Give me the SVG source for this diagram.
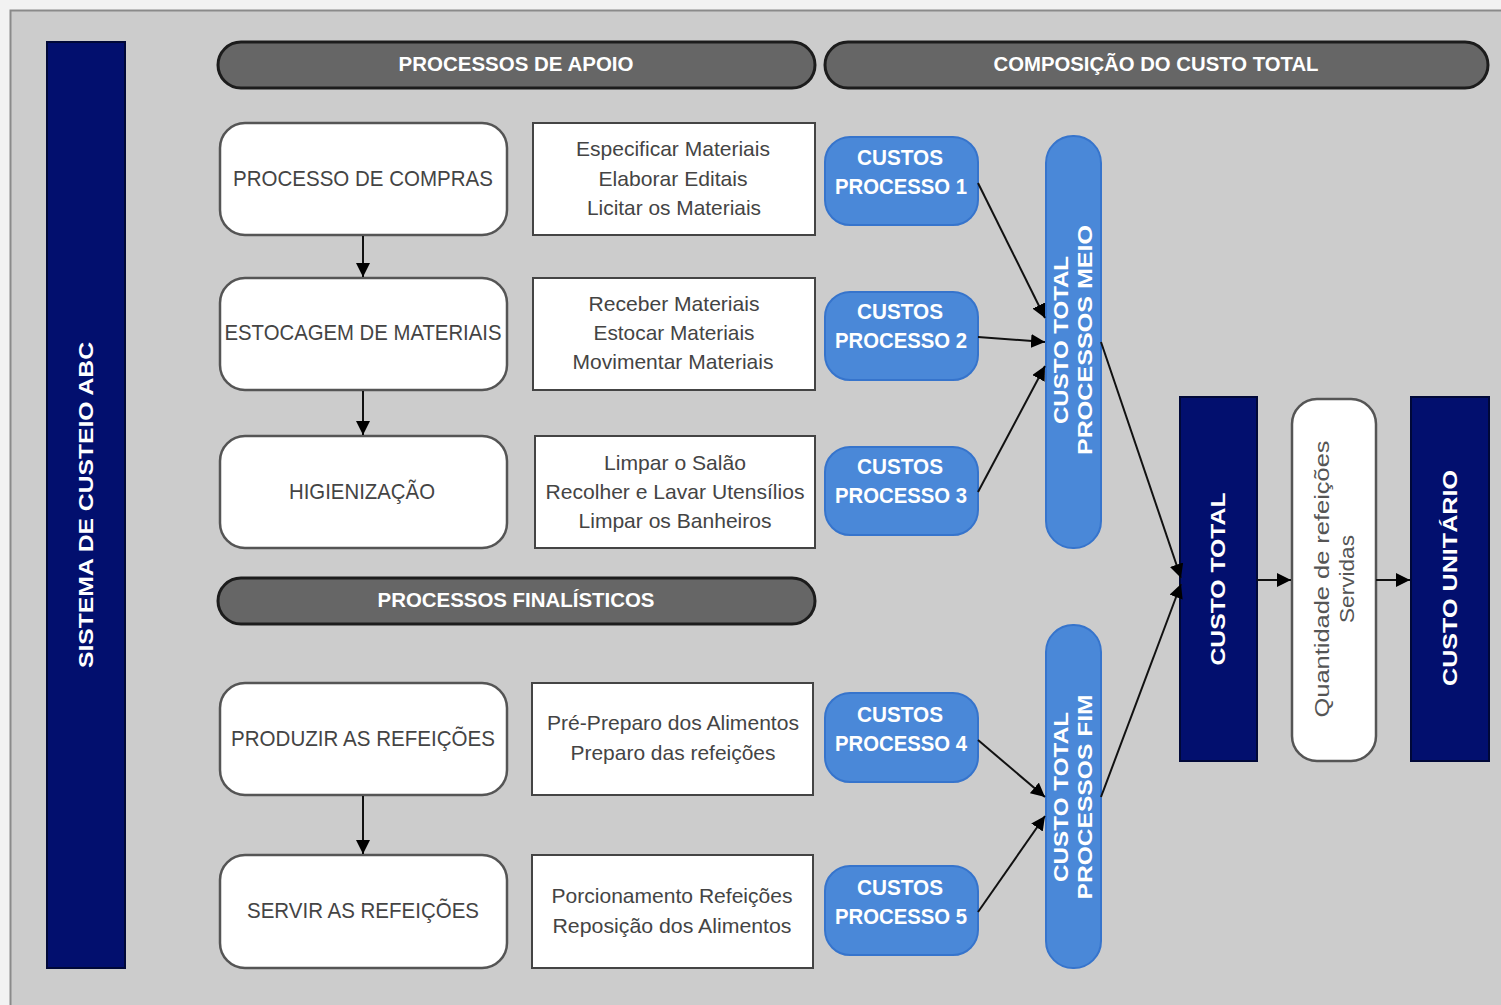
<svg xmlns="http://www.w3.org/2000/svg" width="1501" height="1005" viewBox="0 0 1501 1005">
<defs>
<marker id="arr" viewBox="0 0 10 10" refX="10" refY="5" markerWidth="14" markerHeight="14" markerUnits="userSpaceOnUse" orient="auto">
<path d="M0,0 L10,5 L0,10 z" fill="#000"/>
</marker>
<style>
.hdr{fill:#666;stroke:#1c1c1c;stroke-width:3}
.hdrt{font-family:"Liberation Sans",Arial,sans-serif;font-weight:bold;font-size:21px;fill:#fff;text-anchor:middle}
.proc{fill:#fff;stroke:#555;stroke-width:2.5}
.proct{font-family:"Liberation Sans",Arial,sans-serif;font-size:22px;fill:#444;text-anchor:middle}
.act{fill:#fff;stroke:#444;stroke-width:2}
.actt{font-family:"Liberation Sans",Arial,sans-serif;font-size:21px;fill:#444;text-anchor:middle}
.pill{fill:#4a88d8;stroke:#3674cc;stroke-width:2}
.pillt{font-family:"Liberation Sans",Arial,sans-serif;font-weight:bold;font-size:22px;fill:#fff;text-anchor:middle}
.navy{fill:#020f6e;stroke:#000838;stroke-width:2}
.vt{font-family:"Liberation Sans",Arial,sans-serif;font-weight:bold;font-size:20px;fill:#fff;text-anchor:middle;dominant-baseline:central}
.vtg{font-family:"Liberation Sans",Arial,sans-serif;font-size:20px;fill:#555;text-anchor:middle;dominant-baseline:central}
.conn{stroke:#111;stroke-width:2;fill:none;marker-end:url(#arr)}
</style>
</defs>
<rect x="0" y="0" width="1501" height="1005" fill="#f2f2f2"/>
<rect x="10.5" y="10.5" width="1500" height="1000" fill="#cccccc" stroke="#8a8a8a" stroke-width="2"/>

<g id="sistema">
<rect x="47" y="42" width="78" height="926" class="navy"/>
<text class="vt" font-size="19" transform="translate(86,505) rotate(-90)" textLength="326" lengthAdjust="spacingAndGlyphs">SISTEMA DE CUSTEIO ABC</text>
</g>

<g id="hdr-apoio">
<rect x="218" y="42" width="597" height="46" rx="23" class="hdr"/>
<text x="516" y="71" class="hdrt" textLength="235" lengthAdjust="spacingAndGlyphs">PROCESSOS DE APOIO</text>
</g>
<g id="hdr-composicao">
<rect x="825" y="42" width="663" height="46" rx="23" class="hdr"/>
<text x="1156" y="71" class="hdrt" textLength="325" lengthAdjust="spacingAndGlyphs">COMPOSIÇÃO DO CUSTO TOTAL</text>
</g>
<g id="hdr-finalisticos">
<rect x="218" y="578" width="597" height="46" rx="23" class="hdr"/>
<text x="516" y="607" class="hdrt" textLength="277" lengthAdjust="spacingAndGlyphs">PROCESSOS FINALÍSTICOS</text>
</g>

<g id="proc-compras">
<rect x="220" y="123" width="287" height="112" rx="25" class="proc"/>
<text x="363" y="186" class="proct" textLength="260" lengthAdjust="spacingAndGlyphs">PROCESSO DE COMPRAS</text>
</g>
<g id="proc-estocagem">
<rect x="220" y="278" width="287" height="112" rx="25" class="proc"/>
<text x="363" y="340" class="proct" textLength="277" lengthAdjust="spacingAndGlyphs">ESTOCAGEM DE MATERIAIS</text>
</g>
<g id="proc-higienizacao">
<rect x="220" y="436" width="287" height="112" rx="25" class="proc"/>
<text x="362" y="499" class="proct" textLength="146" lengthAdjust="spacingAndGlyphs">HIGIENIZAÇÃO</text>
</g>
<g id="proc-produzir">
<rect x="220" y="683" width="287" height="112" rx="25" class="proc"/>
<text x="363" y="746" class="proct" textLength="264" lengthAdjust="spacingAndGlyphs">PRODUZIR AS REFEIÇÕES</text>
</g>
<g id="proc-servir">
<rect x="220" y="855" width="287" height="113" rx="25" class="proc"/>
<text x="363" y="918" class="proct" textLength="232" lengthAdjust="spacingAndGlyphs">SERVIR AS REFEIÇÕES</text>
</g>

<g id="act-compras">
<rect x="533" y="123" width="282" height="112" class="act"/>
<text x="673" y="156" class="actt" textLength="194" lengthAdjust="spacingAndGlyphs">Especificar Materiais</text>
<text x="673" y="186" class="actt" textLength="149" lengthAdjust="spacingAndGlyphs">Elaborar Editais</text>
<text x="674" y="215" class="actt" textLength="174" lengthAdjust="spacingAndGlyphs">Licitar os Materiais</text>
</g>
<g id="act-estocagem">
<rect x="533" y="278" width="282" height="112" class="act"/>
<text x="674" y="311" class="actt" textLength="171" lengthAdjust="spacingAndGlyphs">Receber Materiais</text>
<text x="674" y="340" class="actt" textLength="161" lengthAdjust="spacingAndGlyphs">Estocar Materiais</text>
<text x="673" y="369" class="actt" textLength="201" lengthAdjust="spacingAndGlyphs">Movimentar Materiais</text>
</g>
<g id="act-higienizacao">
<rect x="535" y="436" width="280" height="112" class="act"/>
<text x="675" y="470" class="actt" textLength="142" lengthAdjust="spacingAndGlyphs">Limpar o Salão</text>
<text x="675" y="499" class="actt" textLength="259" lengthAdjust="spacingAndGlyphs">Recolher e Lavar Utensílios</text>
<text x="675" y="528" class="actt" textLength="193" lengthAdjust="spacingAndGlyphs">Limpar os Banheiros</text>
</g>
<g id="act-produzir">
<rect x="532" y="683" width="281" height="112" class="act"/>
<text x="673" y="730" class="actt" textLength="252" lengthAdjust="spacingAndGlyphs">Pré-Preparo dos Alimentos</text>
<text x="673" y="760" class="actt" textLength="205" lengthAdjust="spacingAndGlyphs">Preparo das refeições</text>
</g>
<g id="act-servir">
<rect x="532" y="855" width="281" height="113" class="act"/>
<text x="672" y="903" class="actt" textLength="241" lengthAdjust="spacingAndGlyphs">Porcionamento Refeições</text>
<text x="672" y="933" class="actt" textLength="239" lengthAdjust="spacingAndGlyphs">Reposição dos Alimentos</text>
</g>

<g id="custo-p1">
<rect x="825" y="137" width="153" height="88" rx="25" class="pill"/>
<text x="900" y="165" class="pillt" textLength="86" lengthAdjust="spacingAndGlyphs">CUSTOS</text>
<text x="901" y="194" class="pillt" textLength="132" lengthAdjust="spacingAndGlyphs">PROCESSO 1</text>
</g>
<g id="custo-p2">
<rect x="825" y="292" width="153" height="88" rx="25" class="pill"/>
<text x="900" y="319" class="pillt" textLength="86" lengthAdjust="spacingAndGlyphs">CUSTOS</text>
<text x="901" y="348" class="pillt" textLength="132" lengthAdjust="spacingAndGlyphs">PROCESSO 2</text>
</g>
<g id="custo-p3">
<rect x="825" y="447" width="153" height="88" rx="25" class="pill"/>
<text x="900" y="474" class="pillt" textLength="86" lengthAdjust="spacingAndGlyphs">CUSTOS</text>
<text x="901" y="503" class="pillt" textLength="132" lengthAdjust="spacingAndGlyphs">PROCESSO 3</text>
</g>
<g id="custo-p4">
<rect x="825" y="693" width="153" height="89" rx="25" class="pill"/>
<text x="900" y="722" class="pillt" textLength="86" lengthAdjust="spacingAndGlyphs">CUSTOS</text>
<text x="901" y="751" class="pillt" textLength="132" lengthAdjust="spacingAndGlyphs">PROCESSO 4</text>
</g>
<g id="custo-p5">
<rect x="825" y="866" width="153" height="89" rx="25" class="pill"/>
<text x="900" y="895" class="pillt" textLength="86" lengthAdjust="spacingAndGlyphs">CUSTOS</text>
<text x="901" y="924" class="pillt" textLength="132" lengthAdjust="spacingAndGlyphs">PROCESSO 5</text>
</g>

<g id="total-meio">
<rect x="1046" y="136" width="55" height="412" rx="27" class="pill"/>
<text class="vt" transform="translate(1073,340) rotate(-90)" y="-12" textLength="168" lengthAdjust="spacingAndGlyphs">CUSTO TOTAL</text>
<text class="vt" transform="translate(1073,340) rotate(-90)" y="12" textLength="230" lengthAdjust="spacingAndGlyphs">PROCESSOS MEIO</text>
</g>
<g id="total-fim">
<rect x="1046" y="625" width="55" height="343" rx="27" class="pill"/>
<text class="vt" transform="translate(1073,797) rotate(-90)" y="-12" textLength="170" lengthAdjust="spacingAndGlyphs">CUSTO TOTAL</text>
<text class="vt" transform="translate(1073,797) rotate(-90)" y="12" textLength="205" lengthAdjust="spacingAndGlyphs">PROCESSOS FIM</text>
</g>

<g id="custo-total">
<rect x="1180" y="397" width="77" height="364" class="navy"/>
<text class="vt" transform="translate(1218,579) rotate(-90)" textLength="173" lengthAdjust="spacingAndGlyphs">CUSTO TOTAL</text>
</g>
<g id="quantidade">
<rect x="1292" y="399" width="84" height="362" rx="25" fill="#fff" stroke="#555" stroke-width="2.5"/>
<text class="vtg" transform="translate(1334,579) rotate(-90)" y="-12" textLength="277" lengthAdjust="spacingAndGlyphs">Quantidade de refeições</text>
<text class="vtg" transform="translate(1334,579) rotate(-90)" y="13" textLength="88" lengthAdjust="spacingAndGlyphs">Servidas</text>
</g>
<g id="custo-unitario">
<rect x="1411" y="397" width="78" height="364" class="navy"/>
<text class="vt" transform="translate(1450,578) rotate(-90)" textLength="216" lengthAdjust="spacingAndGlyphs">CUSTO UNITÁRIO</text>
</g>

<g id="connectors">
<line x1="363" y1="236" x2="363" y2="277" class="conn"/>
<line x1="363" y1="391" x2="363" y2="435" class="conn"/>
<line x1="363" y1="796" x2="363" y2="854" class="conn"/>
<line x1="978" y1="183" x2="1045" y2="318" class="conn"/>
<line x1="978" y1="337" x2="1045" y2="342" class="conn"/>
<line x1="978" y1="492" x2="1045" y2="366" class="conn"/>
<line x1="1101" y1="342" x2="1181" y2="578" class="conn"/>
<line x1="978" y1="740" x2="1045" y2="797" class="conn"/>
<line x1="978" y1="912" x2="1045" y2="816" class="conn"/>
<line x1="1101" y1="797" x2="1181" y2="584" class="conn"/>
<line x1="1257" y1="580" x2="1291" y2="580" class="conn"/>
<line x1="1376" y1="580" x2="1410" y2="580" class="conn"/>
</g>
</svg>
